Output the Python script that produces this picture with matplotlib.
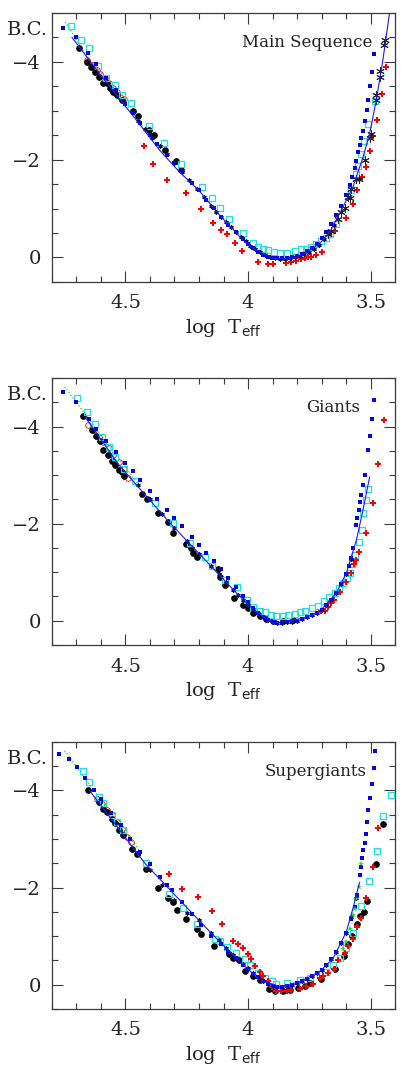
import matplotlib
matplotlib.use('Agg')
import matplotlib.pyplot as plt
from matplotlib.ticker import FixedLocator, MultipleLocator, FuncFormatter

plt.rcParams['font.family'] = ['DejaVu Serif']
plt.rcParams['mathtext.fontset'] = 'dejavuserif'

# ---------------- Main Sequence ----------------
ms_line_x = [4.718, 4.60, 4.44, 4.36, 4.28, 4.20, 4.115, 4.06, 4.033, 4.0, 3.952, 3.911, 3.884, 3.85,
             3.816, 3.78, 3.762, 3.708, 3.667, 3.626, 3.585, 3.572, 3.531, 3.504, 3.477, 3.45, 3.423]
ms_line_y = [-4.50, -3.72, -2.71, -2.19, -1.75, -1.37, -0.86, -0.57, -0.42, -0.26, -0.11, -0.01, 0.02, 0.03,
             0.02, -0.05, -0.11, -0.28, -0.52, -0.90, -1.31, -1.44, -2.05, -2.53, -3.21, -4.03, -4.99]

ms_black_x = [4.689, 4.655, 4.641, 4.623, 4.607, 4.590, 4.576, 4.565, 4.549, 4.533, 4.515, 4.470, 4.450,
              4.404, 4.383, 4.339, 4.295, 4.275]
ms_black_y = [-4.29, -4.00, -3.90, -3.79, -3.69, -3.57, -3.57, -3.47, -3.38, -3.32, -3.23, -2.99, -2.89,
              -2.60, -2.50, -2.19, -1.98, -1.79]

ms_cyan_x = [4.721, 4.682, 4.648, 4.613, 4.579, 4.543, 4.516, 4.477, 4.405, 4.343, 4.273, 4.189, 4.146,
             4.115, 4.077, 4.021, 3.979, 3.961, 3.938, 3.918, 3.895, 3.870, 3.841, 3.809, 3.782, 3.765,
             3.744, 3.721, 3.704, 3.683, 3.667, 3.640, 3.579, 3.558, 3.552, 3.541, 3.528, 3.511, 3.480]
ms_cyan_y = [-4.74, -4.44, -4.29, -3.92, -3.68, -3.52, -3.32, -3.15, -2.68, -2.34, -1.91, -1.45, -1.21,
             -1.01, -0.79, -0.50, -0.29, -0.22, -0.17, -0.15, -0.12, -0.10, -0.10, -0.14, -0.17, -0.18,
             -0.22, -0.27, -0.33, -0.40, -0.48, -0.68, -1.37, -1.71, -1.88, -2.12, -2.38, -2.72, -3.20]

ms_red_x = [4.424, 4.389, 4.332, 4.254, 4.191, 4.142, 4.112, 4.085, 4.054, 4.024, 3.961, 3.918, 3.898,
            3.847, 3.823, 3.803, 3.782, 3.769, 3.755, 3.742, 3.721, 3.697, 3.647, 3.602, 3.573, 3.557,
            3.533, 3.520, 3.504, 3.492, 3.472, 3.455, 3.439]
ms_red_y = [-2.27, -1.91, -1.59, -1.31, -0.99, -0.70, -0.56, -0.48, -0.29, -0.14, 0.09, 0.14, 0.14,
            0.12, 0.10, 0.07, 0.03, 0.01, 0.0, -0.01, -0.05, -0.12, -0.55, -0.81, -1.10, -1.37,
            -1.64, -1.85, -2.17, -2.48, -2.82, -3.35, -3.90]

ms_redo_x = [4.655, 4.633, 4.617, 4.603, 4.583, 4.569, 4.549, 4.535, 4.522, 4.508]
ms_redo_y = [-4.03, -3.93, -3.83, -3.76, -3.66, -3.56, -3.47, -3.38, -3.28, -3.25]

ms_green_x = [4.746, 4.657, 4.562, 4.413]
ms_green_y = [-4.82, -4.10, -3.56, -2.56]

ms_star_x = [3.443, 3.447, 3.461, 3.463, 3.477, 3.477, 3.497, 3.501, 3.524, 3.547, 3.558, 3.579, 3.583,
             3.592, 3.606, 3.622, 3.634, 3.663, 3.674]
ms_star_y = [-4.44, -4.34, -3.82, -3.69, -3.32, -3.21, -2.53, -2.44, -2.00, -1.61, -1.61, -1.40, -1.22,
             -1.23, -1.01, -0.92, -0.79, -0.55, -0.48]

ms_cross_x = [4.45, 4.42, 4.39, 4.36, 4.33, 4.30, 4.27, 4.24, 4.21, 4.18, 4.15, 4.13, 4.11, 4.09, 4.07,
              4.05, 4.03, 4.01, 3.99, 3.97, 3.95, 3.93, 3.91, 3.89, 3.87, 3.85, 3.83, 3.81, 3.79, 3.77,
              3.75, 3.73, 3.71, 3.69, 3.67, 3.65]
ms_cross_y = [-2.80, -2.62, -2.45, -2.28, -2.11, -1.93, -1.75, -1.58, -1.41, -1.23, -1.05, -0.93, -0.82,
              -0.72, -0.62, -0.52, -0.42, -0.33, -0.24, -0.17, -0.11, -0.05, -0.01, 0.02, 0.03, 0.03,
              0.02, 0.0, -0.03, -0.07, -0.12, -0.18, -0.26, -0.37, -0.50, -0.66]

ms_blue_x = [4.755, 4.700, 4.653, 4.62, 4.58, 4.54, 4.50, 4.47, 4.44, 4.40, 4.37, 4.33, 4.30, 4.27, 4.23,
             4.20, 4.17, 4.14, 4.11, 4.08, 4.05, 4.02, 4.00, 3.98, 3.96, 3.94, 3.92, 3.90, 3.88, 3.86,
             3.84, 3.82, 3.80, 3.78, 3.76, 3.74, 3.72, 3.70, 3.68, 3.66, 3.64, 3.62, 3.60, 3.585, 3.575,
             3.565, 3.558, 3.552, 3.545, 3.538, 3.531, 3.522, 3.515, 3.511, 3.504, 3.495, 3.487]
ms_blue_y = [-4.70, -4.50, -4.18, -3.95, -3.68, -3.42, -3.14, -2.95, -2.76, -2.50, -2.33, -2.10, -1.93,
             -1.76, -1.53, -1.37, -1.18, -1.01, -0.82, -0.67, -0.52, -0.37, -0.27, -0.19, -0.12, -0.06,
             -0.02, 0.01, 0.02, 0.02, 0.01, -0.01, -0.04, -0.08, -0.13, -0.20, -0.28, -0.39, -0.52,
             -0.68, -0.86, -1.05, -1.27, -1.48, -1.65, -1.82, -1.98, -2.16, -2.30, -2.45, -2.58, -2.79,
             -3.01, -3.23, -3.51, -3.80, -4.16]

# ---------------- Giants ----------------
gi_line_x = [4.664, 4.527, 4.318, 4.182, 4.047, 3.979, 3.898, 3.775, 3.708, 3.640, 3.599, 3.558, 3.531, 3.504]
gi_line_y = [-4.19, -3.21, -2.01, -1.29, -0.57, -0.23, 0.05, -0.05, -0.19, -0.57, -0.98, -1.66, -2.28, -2.96]

gi_black_x = [4.674, 4.637, 4.621, 4.603, 4.592, 4.573, 4.556, 4.542, 4.526, 4.515, 4.505, 4.434, 4.413,
              4.368, 4.325, 4.305, 4.254, 4.234, 4.223, 4.210, 4.121, 4.115, 4.094, 4.056, 4.022, 4.0,
              3.979, 3.952, 3.925, 3.900, 3.857, 3.816]
gi_black_y = [-4.21, -3.92, -3.80, -3.71, -3.51, -3.41, -3.30, -3.20, -3.11, -3.06, -2.99, -2.61, -2.50,
              -2.21, -2.04, -1.81, -1.59, -1.49, -1.40, -1.31, -1.06, -0.91, -0.74, -0.46, -0.33, -0.26,
              -0.16, -0.09, -0.03, 0.01, 0.01, -0.01]

gi_cyan_x = [4.698, 4.657, 4.626, 4.596, 4.569, 4.542, 4.508, 4.461, 4.379, 4.307, 4.237, 4.176, 4.149,
             4.094, 4.043, 4.006, 3.979, 3.952, 3.931, 3.907, 3.884, 3.857, 3.835, 3.809, 3.789, 3.769,
             3.739, 3.714, 3.691, 3.671, 3.647, 3.630, 3.613, 3.595, 3.585, 3.576, 3.565, 3.549, 3.535,
             3.531, 3.520, 3.511]
gi_cyan_y = [-4.58, -4.29, -4.05, -3.79, -3.58, -3.38, -3.13, -2.88, -2.43, -2.01, -1.61, -1.31, -1.13,
             -0.83, -0.70, -0.42, -0.29, -0.21, -0.17, -0.12, -0.10, -0.10, -0.12, -0.14, -0.17, -0.21,
             -0.26, -0.31, -0.40, -0.49, -0.57, -0.67, -0.77, -0.88, -0.98, -1.17, -1.35, -1.63, -1.87,
             -2.22, -2.48, -2.72]

gi_red_x = [3.701, 3.687, 3.674, 3.660, 3.649, 3.626, 3.599, 3.579, 3.568, 3.558, 3.547, 3.520, 3.490,
            3.470, 3.447]
gi_red_y = [-0.21, -0.21, -0.29, -0.36, -0.42, -0.60, -0.79, -0.98, -1.17, -1.25, -1.41, -1.80, -2.43,
            -3.22, -4.14]

gi_redo_x = [4.651, 4.630, 4.610, 4.590, 4.569, 4.549, 4.528, 4.508, 4.488]
gi_redo_y = [-4.04, -3.92, -3.78, -3.68, -3.56, -3.41, -3.27, -3.13, -2.95]

gi_green_x = [4.748, 4.630, 4.440]
gi_green_y = [-4.82, -4.02, -2.76]

gi_cross_x = [4.45, 4.40, 4.35, 4.30, 4.25, 4.20, 4.15, 4.12, 4.09, 4.06, 4.04, 4.02, 4.00, 3.98, 3.96,
              3.94, 3.92, 3.90, 3.88, 3.86, 3.84, 3.82, 3.80, 3.78, 3.76, 3.74, 3.72, 3.70, 3.68, 3.66,
              3.64, 3.62, 3.60, 3.58]
gi_cross_y = [-2.80, -2.50, -2.19, -1.91, -1.65, -1.38, -1.12, -0.96, -0.80, -0.64, -0.53, -0.42, -0.33,
              -0.24, -0.15, -0.08, -0.02, 0.03, 0.04, 0.04, 0.03, 0.02, 0.0, -0.03, -0.07, -0.11, -0.16,
              -0.23, -0.32, -0.43, -0.57, -0.75, -0.97, -1.28]

gi_blue_x = [4.755, 4.701, 4.65, 4.62, 4.58, 4.54, 4.50, 4.47, 4.44, 4.40, 4.37, 4.33, 4.30, 4.27, 4.23,
             4.20, 4.17, 4.14, 4.11, 4.08, 4.05, 4.02, 4.00, 3.98, 3.96, 3.94, 3.92, 3.90, 3.88, 3.86,
             3.84, 3.82, 3.80, 3.78, 3.76, 3.74, 3.72, 3.70, 3.68, 3.66, 3.64, 3.62, 3.60, 3.59, 3.58,
             3.57, 3.558, 3.554, 3.549, 3.545, 3.538, 3.531, 3.522, 3.511, 3.504, 3.493, 3.488]
gi_blue_y = [-4.72, -4.51, -4.15, -3.95, -3.70, -3.47, -3.25, -3.08, -2.90, -2.68, -2.51, -2.28, -2.12,
             -1.95, -1.73, -1.56, -1.40, -1.23, -1.06, -0.89, -0.70, -0.50, -0.38, -0.26, -0.16, -0.08,
             -0.02, 0.03, 0.04, 0.04, 0.03, 0.02, 0.0, -0.03, -0.07, -0.11, -0.16, -0.23, -0.32, -0.43,
             -0.57, -0.75, -0.97, -1.13, -1.30, -1.50, -1.97, -2.11, -2.28, -2.45, -2.58, -2.79, -3.01,
             -3.51, -3.80, -4.16, -4.55]

# ---------------- Supergiants ----------------
sg_line_x = [4.647, 4.419, 4.201, 4.115, 4.033, 3.952, 3.870, 3.789, 3.708, 3.653, 3.599, 3.572, 3.545]
sg_line_y = [-4.00, -2.49, -1.33, -0.88, -0.47, -0.10, 0.04, -0.06, -0.27, -0.54, -1.09, -1.57, -2.11]

sg_black_x = [4.653, 4.610, 4.590, 4.576, 4.556, 4.542, 4.528, 4.511, 4.474, 4.454, 4.417, 4.366, 4.325,
              4.307, 4.288, 4.254, 4.210, 4.192, 4.138, 4.077, 4.060, 4.036, 4.013, 3.979, 3.952, 3.914,
              3.891, 3.857, 3.830, 3.796, 3.769, 3.748, 3.701, 3.647, 3.610, 3.592, 3.574, 3.556, 3.545,
              3.528, 3.513, 3.477, 3.450]
sg_black_y = [-4.01, -3.76, -3.62, -3.56, -3.42, -3.32, -3.18, -3.08, -2.80, -2.70, -2.39, -2.00, -1.78,
              -1.71, -1.54, -1.35, -1.14, -1.05, -0.80, -0.64, -0.55, -0.51, -0.29, -0.17, -0.10, 0.09,
              0.14, 0.14, 0.10, 0.07, 0.03, -0.03, -0.12, -0.32, -0.59, -0.84, -1.00, -1.26, -1.42,
              -1.50, -1.72, -2.49, -3.31]

sg_cyan_x = [4.675, 4.647, 4.606, 4.590, 4.556, 4.535, 4.511, 4.416, 4.321, 4.267, 4.210, 4.135, 4.115,
             4.085, 4.050, 4.013, 3.993, 3.959, 3.931, 3.904, 3.884, 3.841, 3.789, 3.749, 3.708, 3.680,
             3.653, 3.626, 3.599, 3.570, 3.538, 3.505, 3.473, 3.450, 3.416]
sg_cyan_y = [-4.41, -4.17, -3.86, -3.74, -3.49, -3.35, -3.18, -2.50, -1.87, -1.57, -1.25, -0.94, -0.89,
             -0.77, -0.65, -0.53, -0.40, -0.25, -0.14, -0.07, -0.02, -0.03, -0.10, -0.14, -0.21, -0.27,
             -0.41, -0.55, -0.75, -1.06, -1.62, -2.13, -2.75, -3.47, -3.90]

sg_red_x = [4.321, 4.268, 4.203, 4.146, 4.108, 4.060, 4.040, 4.020, 4.0, 3.986, 3.972, 3.952, 3.938, 3.918,
            3.904, 3.884, 3.864, 3.843, 3.823, 3.789, 3.765, 3.735, 3.708, 3.694, 3.674, 3.650, 3.633,
            3.606, 3.592, 3.572, 3.556, 3.538, 3.518, 3.491, 3.470]
sg_red_y = [-2.29, -1.98, -1.81, -1.52, -1.26, -0.91, -0.83, -0.75, -0.64, -0.53, -0.38, -0.27, -0.17, -0.07,
            0.05, 0.12, 0.14, 0.14, 0.10, 0.08, 0.03, -0.02, -0.14, -0.18, -0.25, -0.33, -0.51,
            -0.66, -0.80, -0.95, -1.18, -1.37, -1.79, -2.43, -3.22]

sg_redo_x = [4.617, 4.596, 4.576, 4.556, 4.535, 4.515, 4.495, 4.478]
sg_redo_y = [-3.83, -3.73, -3.59, -3.49, -3.35, -3.21, -3.04, -2.94]

sg_green_x = [4.748, 4.637, 4.440]
sg_green_y = [-4.82, -4.05, -2.74]

sg_gstar_x = [3.538, 3.548, 3.558, 3.565, 3.572, 3.585, 3.602, 3.613]
sg_gstar_y = [-2.49, -2.01, -1.77, -1.56, -1.43, -1.15, -0.88, -0.74]

sg_cross_x = [4.45, 4.40, 4.35, 4.30, 4.25, 4.20, 4.15, 4.12, 4.09, 4.06, 4.04, 4.02, 4.00, 3.98, 3.96,
              3.94, 3.92, 3.90, 3.88, 3.86, 3.84, 3.82, 3.80, 3.78, 3.76, 3.74, 3.72, 3.70, 3.68, 3.66,
              3.64, 3.62, 3.60, 3.58, 3.56]
sg_cross_y = [-2.70, -2.37, -2.05, -1.74, -1.48, -1.33, -1.07, -0.92, -0.76, -0.62, -0.52, -0.42, -0.34,
              -0.25, -0.16, -0.08, -0.02, 0.02, 0.04, 0.04, 0.02, 0.0, -0.03, -0.07, -0.12, -0.17, -0.24,
              -0.31, -0.41, -0.52, -0.67, -0.86, -1.07, -1.40, -1.78]

sg_blue_x = [4.770, 4.732, 4.698, 4.664, 4.630, 4.60, 4.56, 4.52, 4.48, 4.44, 4.40, 4.36, 4.330, 4.310,
             4.27, 4.23, 4.19, 4.15, 4.11, 4.08, 4.05, 4.02, 4.00, 3.98, 3.96, 3.94, 3.92, 3.90, 3.88,
             3.86, 3.84, 3.82, 3.80, 3.78, 3.76, 3.74, 3.72, 3.70, 3.68, 3.66, 3.64, 3.62, 3.60, 3.58,
             3.565, 3.555, 3.545, 3.538, 3.535, 3.531, 3.524, 3.520, 3.515, 3.511, 3.504, 3.496, 3.488, 3.480]
sg_blue_y = [-4.75, -4.65, -4.48, -4.26, -4.01, -3.82, -3.54, -3.28, -3.00, -2.74, -2.48, -2.22, -2.05,
             -1.94, -1.70, -1.46, -1.22, -1.00, -0.83, -0.68, -0.54, -0.40, -0.32, -0.23, -0.15, -0.08,
             -0.02, 0.02, 0.04, 0.04, 0.02, 0.0, -0.03, -0.07, -0.12, -0.17, -0.24, -0.31, -0.41, -0.52,
             -0.67, -0.86, -1.07, -1.35, -1.60, -1.85, -2.26, -2.43, -2.60, -2.77, -2.91, -3.11, -3.35,
             -3.59, -3.85, -4.14, -4.47, -4.82]

panels = [
    ("Main Sequence", ms_line_x, ms_line_y, ms_black_x, ms_black_y, ms_cyan_x, ms_cyan_y, ms_red_x, ms_red_y,
     ms_redo_x, ms_redo_y, ms_green_x, ms_green_y, ms_cross_x, ms_cross_y, ms_blue_x, ms_blue_y),
    ("Giants", gi_line_x, gi_line_y, gi_black_x, gi_black_y, gi_cyan_x, gi_cyan_y, gi_red_x, gi_red_y,
     gi_redo_x, gi_redo_y, gi_green_x, gi_green_y, gi_cross_x, gi_cross_y, gi_blue_x, gi_blue_y),
    ("Supergiants", sg_line_x, sg_line_y, sg_black_x, sg_black_y, sg_cyan_x, sg_cyan_y, sg_red_x, sg_red_y,
     sg_redo_x, sg_redo_y, sg_green_x, sg_green_y, sg_cross_x, sg_cross_y, sg_blue_x, sg_blue_y),
]

# axes boxes in figure fraction (left, bottom, width, height)
boxes = [(0.127, 0.7387, 0.839, 0.2493), (0.127, 0.4022, 0.839, 0.2475), (0.127, 0.0649, 0.839, 0.2475)]
title_x = [0.933, 0.898, 0.917]

fig = plt.figure(figsize=(4.09, 10.79), dpi=100)
frame_col = '#3a3a3a'


def fmt(v, pos):
    return ('%g' % v).replace('-', '\u2212')


for i, p in enumerate(panels):
    (name, lx, ly, bx, by, cx, cy, rx, ry, ox, oy, gx, gy, kx, ky, ux, uy) = p
    ax = fig.add_axes(boxes[i])
    ax.plot(gx, gy, ':', color='#22dd22', lw=0.9, zorder=2)
    ax.plot(ox, oy, 'o', ms=4, mfc='none', mec='red', mew=0.6, zorder=3)
    ax.plot(bx, by, 'o', ms=3.8, color='black', mec='black', zorder=4)
    ax.plot(cx, cy, 's', ms=4.3, mfc='none', mec='#1fe0e0', mew=0.9, zorder=5)
    ax.plot(rx, ry, 'P', ms=4.6, color='#ff0000', mec='#ff0000', mew=0, zorder=5)
    ax.plot(kx, ky, linestyle='none', marker=(6, 2, 0), ms=3.0, color='#111133', mew=0.9, zorder=6)
    ax.plot(ux, uy, 's', ms=2.4, color='#0000ee', mew=0, zorder=6)
    ax.plot(lx, ly, '-', color='#1a1aff', lw=0.8, zorder=7)
    if i == 0:
        ax.plot(ms_star_x, ms_star_y, linestyle='none', marker=(6, 2, 0), ms=6, color='#222222',
                mew=0.7, zorder=6)
    if i == 2:
        ax.plot(sg_gstar_x, sg_gstar_y, '*', ms=4, color='#22dd22', mew=0, zorder=6)

    ax.set_xlim(4.8, 3.4)
    ax.set_ylim(0.5, -5.0)
    ax.xaxis.set_major_locator(FixedLocator([4.5, 4.0, 3.5]))
    ax.xaxis.set_minor_locator(MultipleLocator(0.1))
    ax.yaxis.set_major_locator(FixedLocator([0, -2, -4]))
    ax.yaxis.set_minor_locator(MultipleLocator(0.5))
    ax.xaxis.set_major_formatter(FuncFormatter(fmt))
    ax.yaxis.set_major_formatter(FuncFormatter(fmt))
    ax.tick_params(which='both', direction='in', top=True, right=True, colors=frame_col,
                   labelcolor='#222222', labelsize=14, width=0.8)
    ax.tick_params(which='major', length=8)
    ax.tick_params(which='minor', length=4.5)
    ax.tick_params(axis='x', which='major', pad=9)
    ax.tick_params(axis='y', which='major', pad=8)
    for s in ax.spines.values():
        s.set_color(frame_col)
        s.set_linewidth(0.9)

    ax.text(title_x[i], 0.89, name, transform=ax.transAxes, ha='right', va='center',
            fontsize=12, color='#222222')
    ax.text(-0.012, 0.935, 'B.C.', transform=ax.transAxes, ha='right', va='center',
            fontsize=14, color='#222222')
    ax.set_xlabel(r'log  T$_{\mathsf{eff}}$', fontsize=14, color='#222222', labelpad=3)

fig.savefig('out.png', dpi=100)
